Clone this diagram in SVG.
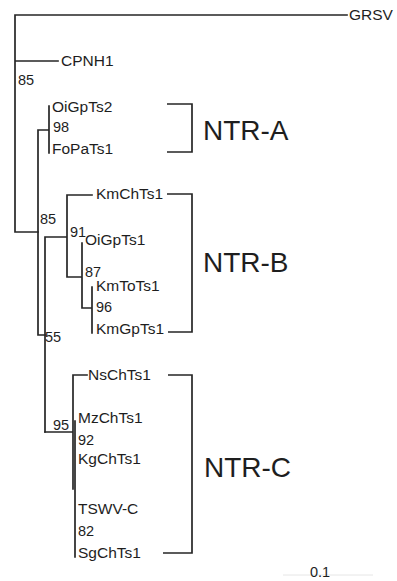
<svg xmlns="http://www.w3.org/2000/svg" width="397" height="581" viewBox="0 0 397 581">
<style>
  .br{fill:none;stroke:#262626;stroke-width:1.7;stroke-linecap:square}
  .bk{fill:none;stroke:#262626;stroke-width:1.7}
  .lf{font-family:"Liberation Sans",Arial,sans-serif;font-size:15.5px;fill:#1e1e1e}
  .bs{font-family:"Liberation Sans",Arial,sans-serif;font-size:14.5px;fill:#1e1e1e}
  .cl{font-family:"Liberation Sans",Arial,sans-serif;font-size:28px;fill:#1e1e1e}
</style>
<rect width="397" height="581" fill="#fff"/>
<g id="connectors">
  <path class="br" d="M15,15 H347 M15,15 V232 M15,61 H58 M15,232 H38"/>
  <path class="br" d="M38,130 V335 M38,130 H49 M49,106 V153 M38,335 H45"/>
  <path class="br" d="M45,237 V432 M45,237 H67 M67,195 V277 M67,195 H92 M67,277 H82 M82,243 V308 M82,308 H92 M92,287 V333"/>
  <path class="br" d="M45,432 H72 M73,375 V489 M73,375 H87 M75,421 V557"/>
</g>
<g id="GRSV"><text class="lf" x="349" y="20">GRSV</text></g>
<g id="CPNH1"><text class="lf" x="61" y="66">CPNH1</text></g>
<g id="bs85a"><text class="bs" x="18" y="85">85</text></g>
<g id="OiGpTs2"><text class="lf" x="52" y="112">OiGpTs2</text></g>
<g id="bs98"><text class="bs" x="53" y="132">98</text></g>
<g id="FoPaTs1"><text class="lf" x="52" y="154">FoPaTs1</text></g>
<g id="bs85b"><text class="bs" x="40" y="224">85</text></g>
<g id="KmChTs1"><text class="lf" x="96" y="199">KmChTs1</text></g>
<g id="bs91"><text class="bs" x="70" y="237">91</text></g>
<g id="OiGpTs1"><text class="lf" x="85" y="245">OiGpTs1</text></g>
<g id="bs87"><text class="bs" x="85" y="277">87</text></g>
<g id="KmToTs1"><text class="lf" x="96" y="291">KmToTs1</text></g>
<g id="bs96"><text class="bs" x="96" y="312">96</text></g>
<g id="KmGpTs1"><text class="lf" x="96" y="334">KmGpTs1</text></g>
<g id="bs55"><text class="bs" x="45" y="342">55</text></g>
<g id="NsChTs1"><text class="lf" x="88" y="380">NsChTs1</text></g>
<g id="bs95"><text class="bs" x="53" y="430">95</text></g>
<g id="MzChTs1"><text class="lf" x="78" y="423">MzChTs1</text></g>
<g id="bs92"><text class="bs" x="78" y="445">92</text></g>
<g id="KgChTs1"><text class="lf" x="78" y="464">KgChTs1</text></g>
<g id="TSWV-C"><text class="lf" x="78" y="514">TSWV-C</text></g>
<g id="bs82"><text class="bs" x="78" y="536">82</text></g>
<g id="SgChTs1"><text class="lf" x="78" y="558">SgChTs1</text></g>
<g id="NTR-A">
  <path class="bk" d="M167,104 H192 V152 H167"/>
  <text class="cl" x="203" y="140">NTR-A</text>
</g>
<g id="NTR-B">
  <path class="bk" d="M167,194 H192 V332 H168"/>
  <text class="cl" x="203" y="272">NTR-B</text>
</g>
<g id="NTR-C">
  <path class="bk" d="M168,375 H192 V553 H163"/>
  <text class="cl" x="204" y="477">NTR-C</text>
</g>
<g id="scale">
  <line x1="283" y1="575" x2="373" y2="575" stroke="#e6e6e6" stroke-width="1"/>
  <text class="bs" x="310" y="577">0.1</text>
</g>
</svg>
